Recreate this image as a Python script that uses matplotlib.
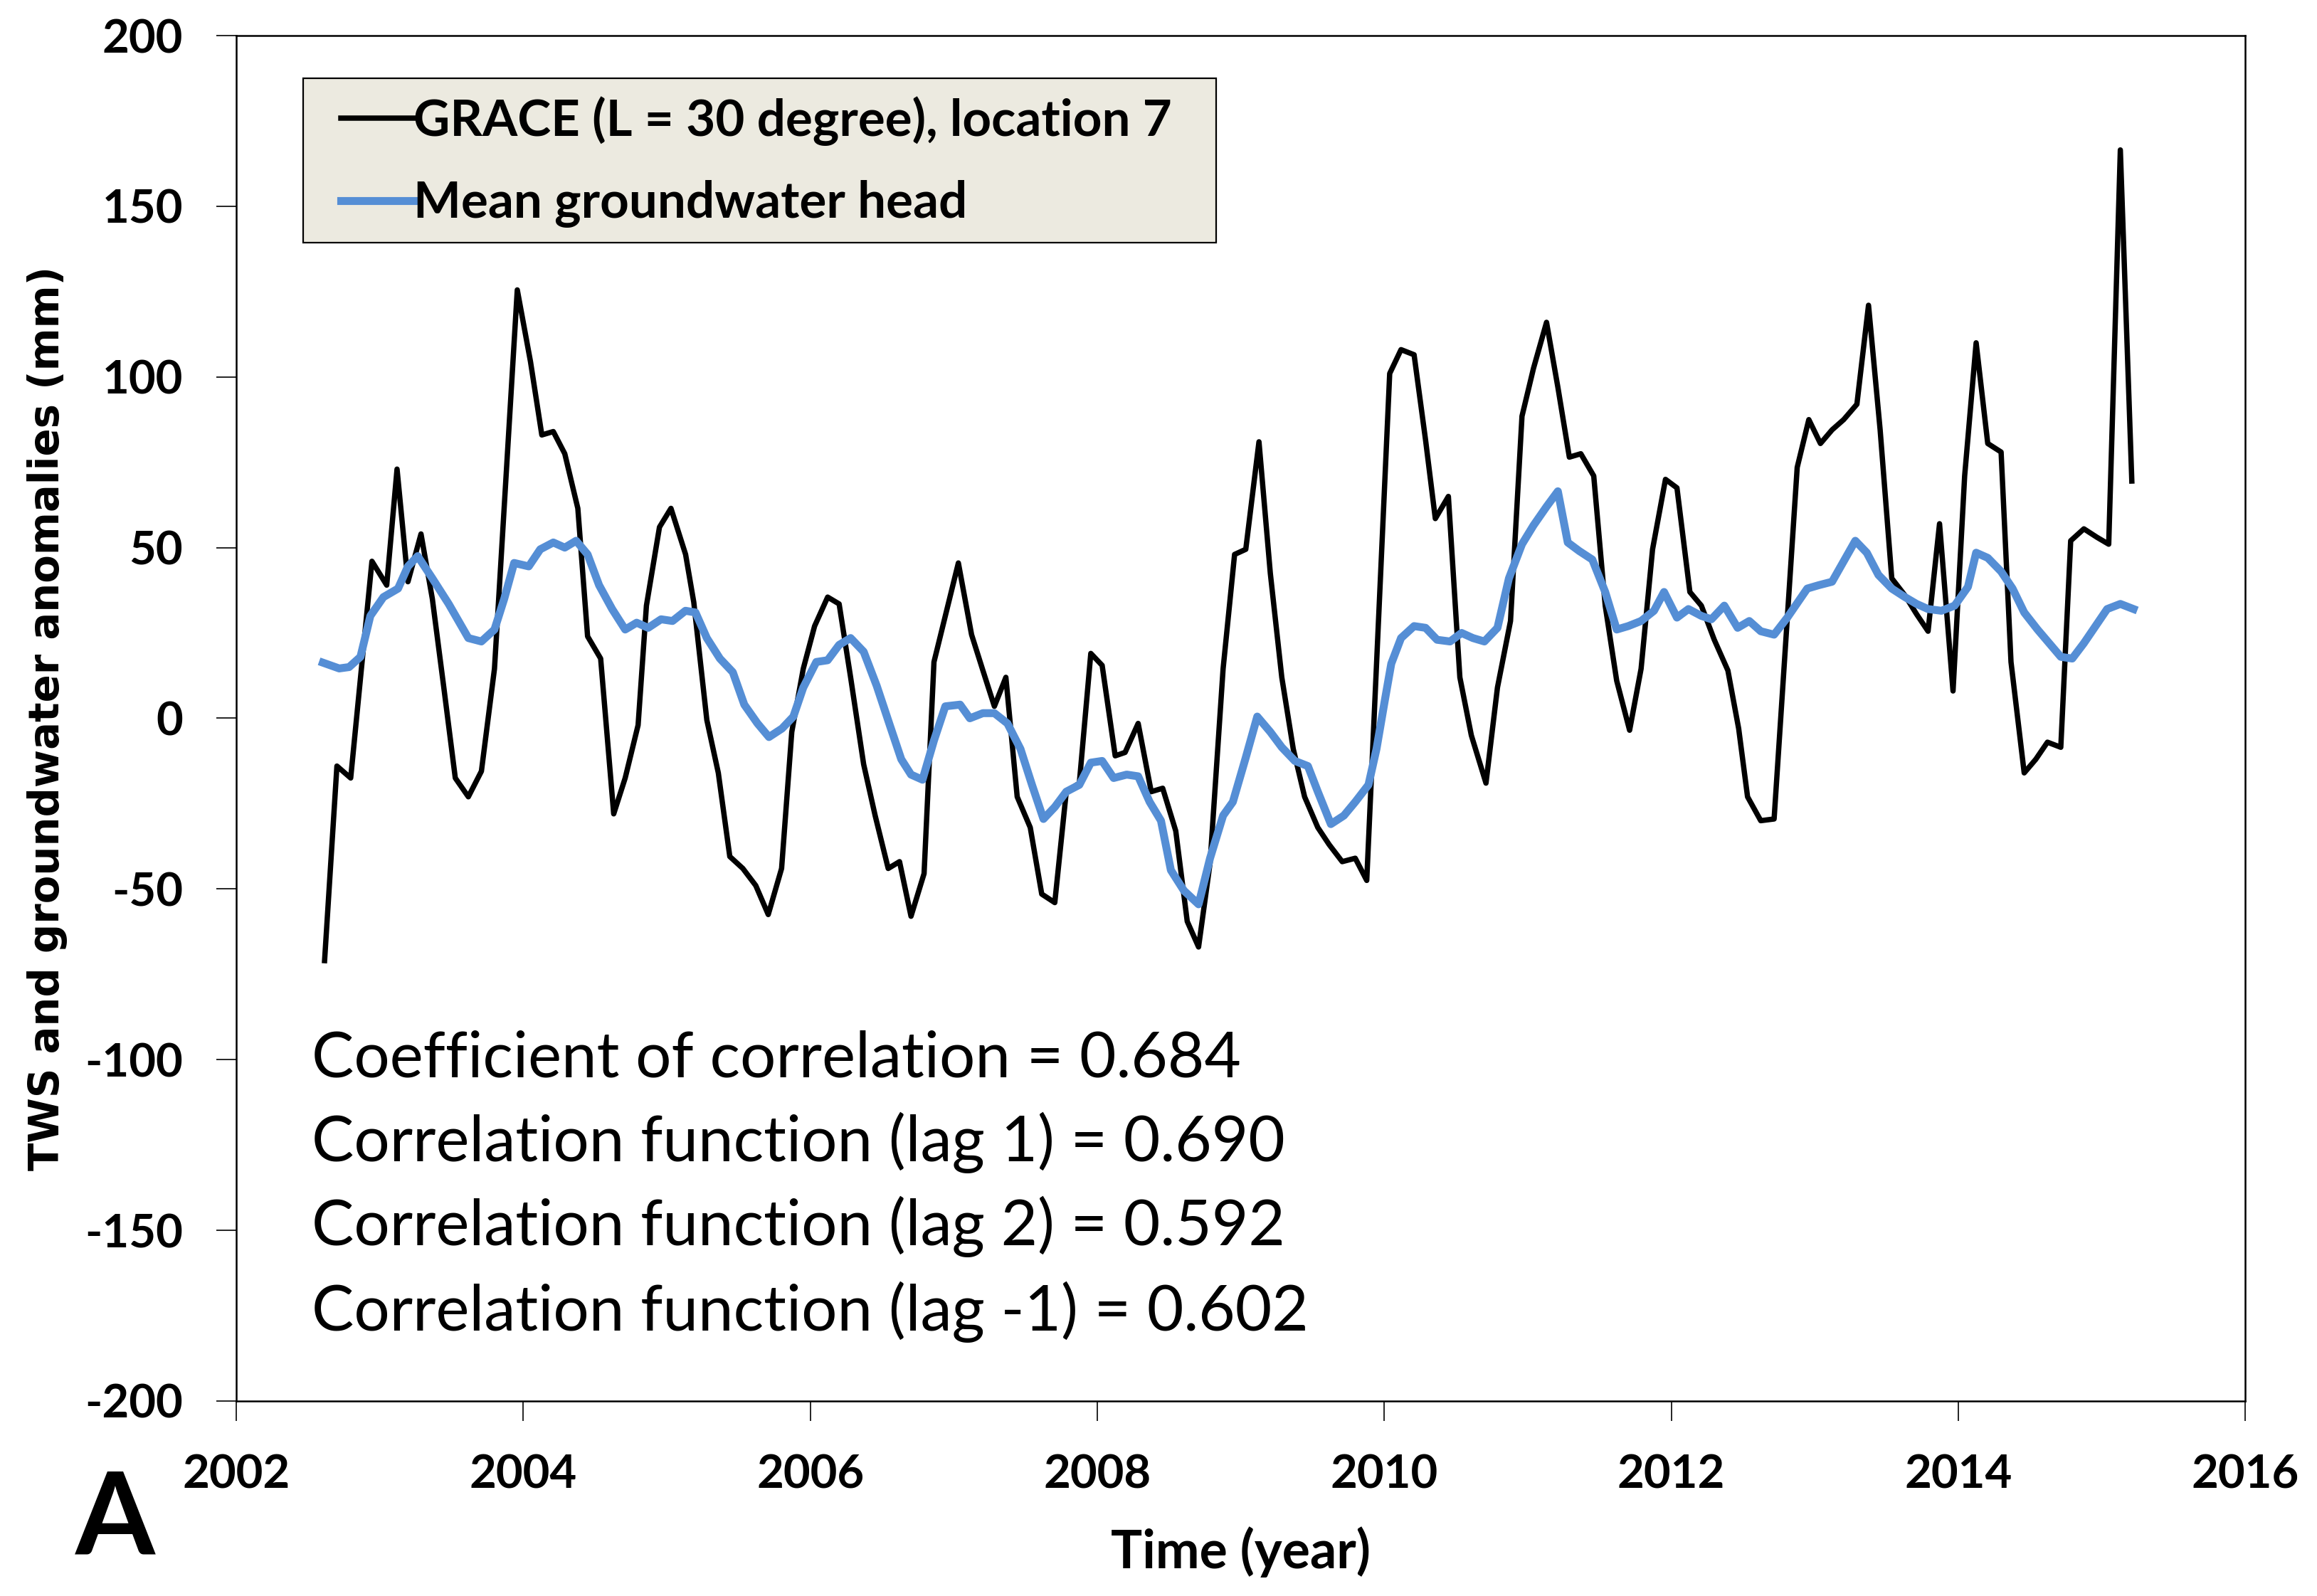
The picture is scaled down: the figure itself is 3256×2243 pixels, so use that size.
import matplotlib
matplotlib.use("Agg")
import matplotlib.pyplot as plt
from matplotlib.patches import Rectangle

plt.rcParams['font.family'] = ['Lato', 'DejaVu Sans']
plt.rcParams['axes.unicode_minus'] = False

# GRACE TWS anomalies (mm), location 7
grace_t = [2002.615, 2002.701, 2002.797, 2002.945, 2003.048, 2003.120, 2003.196, 2003.287,
           2003.366, 2003.446, 2003.526, 2003.617, 2003.708, 2003.799, 2003.879, 2003.958,
           2004.050, 2004.129, 2004.209, 2004.289, 2004.380, 2004.448, 2004.539, 2004.630,
           2004.710, 2004.800, 2004.858, 2004.949, 2005.029, 2005.131, 2005.188, 2005.279,
           2005.359, 2005.439, 2005.530, 2005.620, 2005.707, 2005.800, 2005.871, 2005.951,
           2006.030, 2006.121, 2006.201, 2006.281, 2006.372, 2006.452, 2006.543, 2006.622,
           2006.702, 2006.793, 2006.862, 2006.941, 2007.032, 2007.124, 2007.203, 2007.283,
           2007.363, 2007.442, 2007.533, 2007.613, 2007.704, 2007.784, 2007.875, 2007.955,
           2008.034, 2008.125, 2008.194, 2008.285, 2008.376, 2008.456, 2008.547, 2008.627,
           2008.706, 2008.786, 2008.877, 2008.957, 2009.035, 2009.127, 2009.206, 2009.286,
           2009.366, 2009.445, 2009.537, 2009.616, 2009.707, 2009.798, 2009.878, 2010.038,
           2010.117, 2010.208, 2010.288, 2010.356, 2010.447, 2010.527, 2010.607, 2010.709,
           2010.789, 2010.880, 2010.960, 2011.040, 2011.131, 2011.210, 2011.290, 2011.370,
           2011.460, 2011.540, 2011.620, 2011.710, 2011.790, 2011.870, 2011.960, 2012.040,
           2012.130, 2012.210, 2012.300, 2012.395, 2012.470, 2012.532, 2012.624, 2012.717,
           2012.878, 2012.959, 2013.040, 2013.121, 2013.202, 2013.294, 2013.375, 2013.456,
           2013.537, 2013.629, 2013.710, 2013.790, 2013.870, 2013.964, 2014.045, 2014.125,
           2014.206, 2014.299, 2014.368, 2014.460, 2014.541, 2014.622, 2014.715, 2014.784,
           2014.876, 2014.968, 2015.049, 2015.130, 2015.210]
grace_v = [-71, -14, -17.5, 46, 39, 73, 40, 54,
           35, 9, -17.5, -23, -15.5, 14.5, 70.5, 125.5,
           104.5, 83, 84, 77.5, 61.5, 24, 17.5, -28,
           -17.5, -2, 33, 56, 61.5, 48, 34, -0.5,
           -16, -40.5, -44, -49, -57.5, -44, -4, 14.5,
           27, 35.5, 33.5, 12, -13.5, -28.5, -44, -42,
           -58, -45.5, 16.5, 30, 45.5, 24.5, 14, 3.5,
           12, -23, -32, -51.5, -54, -21.5, -19, 19,
           15.5, -11, -10, -1.5, -21.5, -20.5, -33, -59.5,
           -67, -42.5, 14.5, 48, 49.5, 81, 42.5, 12,
           -9, -23, -32, -37, -42, -41, -47.5, 101,
           108, 106.5, 81.5, 58.5, 65, 12, -5, -19,
           9, 28.5, 88.5, 102.5, 116, 97, 76.5, 77.5,
           71, 33, 11, -3.5, 14.5, 49.5, 70, 67.5,
           37, 33, 23, 14, -3, -23, -30, -29.5,
           73.5, 87.5, 80.5, 84.5, 87.5, 92, 121, 84.5,
           41, 36, 30.5, 25.5, 57, 8, 71, 110,
           80.5, 78, 16.5, -16, -12, -7, -8.5, 52,
           55.5, 53, 51, 166.5, 69.5]

# mean groundwater head anomalies (mm)
gw_t = [2002.603, 2002.717, 2002.786, 2002.865, 2002.934, 2003.025, 2003.127, 2003.196,
        2003.264, 2003.366, 2003.480, 2003.617, 2003.708, 2003.799, 2003.867, 2003.936,
        2004.038, 2004.118, 2004.209, 2004.289, 2004.368, 2004.448, 2004.528, 2004.619,
        2004.710, 2004.790, 2004.870, 2004.960, 2005.040, 2005.130, 2005.200, 2005.279,
        2005.370, 2005.460, 2005.540, 2005.632, 2005.712, 2005.803, 2005.882, 2005.951,
        2006.042, 2006.121, 2006.201, 2006.281, 2006.372, 2006.463, 2006.554, 2006.634,
        2006.702, 2006.782, 2006.862, 2006.941, 2007.044, 2007.112, 2007.203, 2007.283,
        2007.374, 2007.465, 2007.545, 2007.625, 2007.704, 2007.784, 2007.875, 2007.955,
        2008.034, 2008.114, 2008.205, 2008.285, 2008.365, 2008.444, 2008.513, 2008.604,
        2008.706, 2008.786, 2008.877, 2008.945, 2009.035, 2009.115, 2009.206, 2009.286,
        2009.377, 2009.468, 2009.537, 2009.628, 2009.719, 2009.798, 2009.890, 2009.946,
        2010.003, 2010.049, 2010.117, 2010.208, 2010.288, 2010.368, 2010.459, 2010.539,
        2010.618, 2010.698, 2010.789, 2010.869, 2010.960, 2011.040, 2011.131, 2011.210,
        2011.279, 2011.359, 2011.450, 2011.540, 2011.620, 2011.700, 2011.790, 2011.880,
        2011.950, 2012.040, 2012.120, 2012.210, 2012.280, 2012.370, 2012.463, 2012.544,
        2012.624, 2012.717, 2012.809, 2012.948, 2013.029, 2013.121, 2013.202, 2013.283,
        2013.363, 2013.444, 2013.537, 2013.629, 2013.710, 2013.790, 2013.883, 2013.975,
        2014.068, 2014.125, 2014.206, 2014.299, 2014.379, 2014.460, 2014.553, 2014.634,
        2014.715, 2014.795, 2014.876, 2014.957, 2015.038, 2015.130, 2015.222]
gw_v = [16.3, 14.6, 15, 18, 30, 35.5, 38, 44.5,
        47.5, 41, 33.5, 23.5, 22.5, 26, 35, 45.5,
        44.5, 49.5, 51.5, 50, 52, 48, 39, 32,
        26, 28, 26.5, 29, 28.5, 31.5, 31, 23.5,
        17.5, 13.5, 4, -1.5, -5.5, -3, 0.5, 9,
        16.5, 17, 21.5, 23.5, 19.5, 9.5, -2, -12,
        -16.5, -18, -6.5, 3.5, 4, 0, 1.5, 1.5,
        -1.5, -9, -19.5, -29.5, -26, -21.5, -19.5, -13,
        -12.5, -17.5, -16.5, -17, -24.5, -30, -44.5, -50.5,
        -54.5, -41, -28.5, -24.5, -11.5, 0.5, -4, -8.5,
        -12.5, -14, -21.5, -31, -28.5, -24.5, -19.5, -9,
        5, 16, 23.5, 27, 26.5, 23, 22.5, 25,
        23.5, 22.5, 26.5, 41, 51, 56.5, 62, 66.5,
        51.5, 49, 46.5, 37, 26, 27, 28.5, 31.5,
        37, 29.5, 32, 30, 29, 33, 26.5, 28.5,
        25.5, 24.5, 29.5, 38, 39, 40, 46, 52,
        48.5, 42, 38, 35.5, 33.5, 32, 31.5, 33,
        38.5, 48.5, 47, 43, 38, 31, 26, 22,
        18, 17.5, 22, 27, 32, 33.5, 32]

legend_labels = ['GRACE (L = 30 degree), location 7', 'Mean groundwater head']
stats_lines = ['Coefficient of correlation = 0.684',
               'Correlation function (lag 1) = 0.690',
               'Correlation function (lag 2) = 0.592',
               'Correlation function (lag -1) = 0.602']
x_ticks = list(range(2002, 2017, 2))
y_ticks = list(range(-200, 201, 50))

fig = plt.figure(figsize=(32.56, 22.43), dpi=100)
ax = fig.add_axes([0.102, 0.1222, 0.867, 0.8555])

ax.plot(grace_t, grace_v, color='black', lw=5.4, label=legend_labels[0])
ax.plot(gw_t, gw_v, color='#558ED5', lw=8.0, label=legend_labels[1])

ax.set_xlim(2002, 2016)
ax.set_ylim(-200, 200)
ax.set_xticks(x_ticks)
ax.set_yticks(y_ticks)
ax.tick_params(direction='out', length=20, width=1.2, pad=34, labelsize=47)
for lab in ax.get_xticklabels() + ax.get_yticklabels():
    lab.set_fontweight('bold')
for sp in ax.spines.values():
    sp.set_linewidth(1.8)

ax.set_xlabel('Time (year)', fontsize=53, fontweight='bold')
ax.xaxis.set_label_coords(0.5, -0.092)
ax.set_ylabel('TWS and groundwater anomalies (mm)', fontsize=41.5, fontweight='bold',
              family=['DejaVu Sans'])
ax.yaxis.set_label_coords(-0.084, 0.5)

# legend background box
ax.add_patch(Rectangle((0.0333, 0.8483), 0.4545, 0.1204, transform=ax.transAxes,
                       facecolor='#ECEAE0', edgecolor='black', lw=1.6, zorder=4))
leg = ax.legend(loc='upper left', bbox_to_anchor=(0.0521, 0.9555), frameon=False,
                borderpad=0, borderaxespad=0, handlelength=1.44, handletextpad=0.0,
                labelspacing=0.68, prop={'family': ['Lato'], 'weight': 'bold', 'size': 51})
leg.set_zorder(5)

y_pos = [0.2371, 0.1756, 0.1141, 0.0516]
for s, yp in zip(stats_lines, y_pos):
    ax.text(0.0375, yp, s, transform=ax.transAxes, fontsize=64, va='baseline')

fig.text(106 / 3256, 1 - 2185 / 2243, 'A', fontsize=116, fontweight='bold', va='baseline')

fig.savefig('out.png', dpi=100)
